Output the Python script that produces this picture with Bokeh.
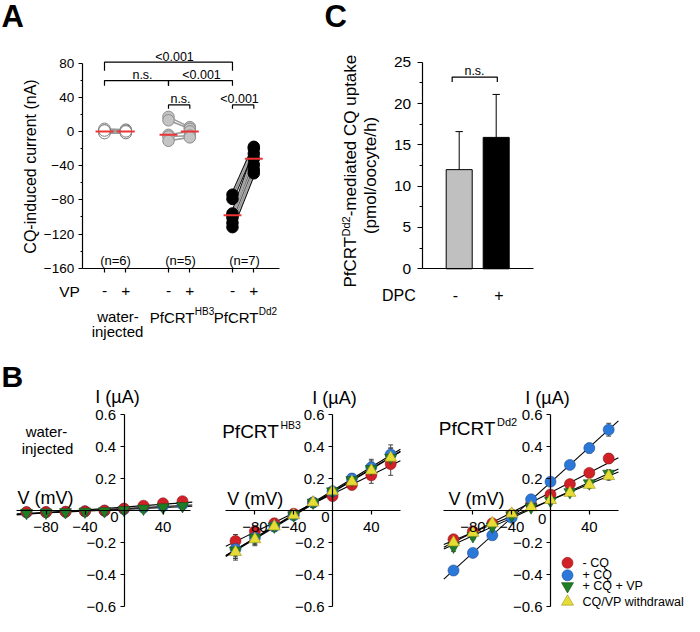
import numpy as np
from bokeh.plotting import figure
from bokeh.models import Range1d, LinearAxis, FixedTicker
from bokeh.layouts import column, row
from bokeh.embed import file_html
from bokeh.resources import INLINE
from bokeh.core.properties import value

FONT = "Liberation Sans"

# ---------------- Panel A data ----------------
A_x_minus = [0, 3, 6]
A_x_plus = [1, 4, 7]
water_minus = [3, 1, 0, -1, -2, 1]
water_plus = [2, 0, -1, 1, -2, 0]
hb3_minus = [17, 13, -4, -6, -11]
hb3_plus = [5, 3, 0, -5, -7]
dd2_minus = [-74, -79, -96, -98, -101, -107, -112]
dd2_plus = [-18, -20, -26, -32, -39, -45, -49]
A_median_minus = [0, -4, -98]
A_median_plus = [0, 0, -32]
A_n = ["(n=6)", "(n=5)", "(n=7)"]
A_yticks = [-160, -120, -80, -40, 0, 40, 80]
A_yminor = [-140, -100, -60, -20, 20, 60]
A_brackets = [(0, 6, 81, 71), (0, 3, 59.5, 53.5), (3, 6, 59.5, 53.5), (3, 4, 31, 26.5), (6, 7, 31, 26.5)]
A_bracket_labels = ["<0.001", "n.s.", "<0.001", "n.s.", "<0.001"]

# ---------------- Panel C data ----------------
C_x = [1, 2]
C_uptake = [12.0, 15.9]
C_err = [4.6, 5.2]
C_dpc = ["-", "+"]
C_yticks = [0, 5, 10, 15, 20, 25]
C_yminor = [2.5, 7.5, 12.5, 17.5, 22.5]

# ---------------- Panel B data ----------------
V = [-100, -80, -60, -40, -20, 0, 20, 40, 60]
B_xticks = [-80, -40, 40]
B_yticks = [-0.6, -0.4, -0.2, 0.2, 0.4, 0.6]

water_red = [-0.010, -0.010, -0.008, -0.005, 0.000, 0.012, 0.030, 0.045, 0.058]
water_blue = [-0.012, -0.010, -0.008, -0.005, -0.002, 0.008, 0.018, 0.028, 0.038]
water_green = [-0.015, -0.013, -0.010, -0.007, -0.004, 0.004, 0.012, 0.020, 0.028]

hb3_red = [-0.19, -0.13, -0.08, -0.02, 0.05, 0.09, 0.16, 0.22, 0.29]
hb3_blue = [-0.24, -0.17, -0.10, -0.03, 0.05, 0.12, 0.20, 0.27, 0.35]
hb3_green = [-0.25, -0.17, -0.10, -0.03, 0.05, 0.12, 0.19, 0.26, 0.33]
hb3_yellow = [-0.26, -0.18, -0.10, -0.03, 0.05, 0.12, 0.18, 0.25, 0.33]
hb3_red_err = [0.04, 0.035, 0.03, 0.02, 0.015, 0.02, 0.03, 0.05, 0.07]
hb3_blue_err = [0.05, 0.04, 0.03, 0.02, 0.02, 0.02, 0.03, 0.05, 0.06]
hb3_green_err = [0.05, 0.04, 0.03, 0.02, 0.02, 0.02, 0.03, 0.05, 0.06]
hb3_yellow_err = [0.05, 0.04, 0.03, 0.02, 0.02, 0.02, 0.03, 0.05, 0.06]

dd2_red = [-0.18, -0.13, -0.08, -0.025, 0.04, 0.10, 0.165, 0.235, 0.325]
dd2_blue = [-0.375, -0.265, -0.155, -0.045, 0.07, 0.18, 0.285, 0.39, 0.505]
dd2_green = [-0.225, -0.16, -0.10, -0.03, 0.02, 0.06, 0.115, 0.17, 0.23]
dd2_yellow = [-0.20, -0.14, -0.08, -0.02, 0.02, 0.065, 0.11, 0.16, 0.215]
dd2_red_err = [0.02, 0.015, 0.015, 0.01, 0.01, 0.015, 0.015, 0.02, 0.03]
dd2_blue_err = [0.02, 0.02, 0.015, 0.015, 0.015, 0.015, 0.02, 0.03, 0.04]
dd2_green_err = [0.03, 0.02, 0.015, 0.01, 0.01, 0.01, 0.015, 0.02, 0.025]
dd2_yellow_err = [0.03, 0.02, 0.015, 0.01, 0.01, 0.01, 0.015, 0.02, 0.025]

legend_labels = ["- CQ", "+ CQ", "+ CQ + VP", "CQ/VP withdrawal"]

STY = {
    "red": dict(marker="circle", fill="#d22027", line="#8c1418", size=11),
    "blue": dict(marker="circle", fill="#2b78d9", line="#1b4e95", size=11),
    "green": dict(marker="inverted_triangle", fill="#1f7d25", line="#114d14", size=12),
    "yellow": dict(marker="triangle", fill="#e6dc35", line="#9c9420", size=12),
}


def mk(px0, py0, w, h, ox, sx, oy, sy):
    p = figure(width=w, height=h,
               x_range=Range1d((px0 - ox) / sx, (px0 + w - ox) / sx),
               y_range=Range1d((oy - (py0 + h)) / sy, (oy - py0) / sy),
               output_backend="svg", toolbar_location=None,
               x_axis_location=None, y_axis_location=None,
               min_border=0, outline_line_color=None)
    p.grid.visible = False
    p.background_fill_color = "white"
    p.border_fill_color = "white"
    X = lambda px: (px - ox) / sx
    Y = lambda py: (oy - py) / sy
    return p, X, Y


def T(p, x, y, s, size, align="center", baseline="middle", angle=0.0, bold=False):
    p.text(x=[x], y=[y], text=[s], text_font=value(FONT), text_font_size=value(f"{size}px"),
           text_align=align, text_baseline=baseline, angle=angle,
           text_font_style="bold" if bold else "normal", text_color="black")


def axis(p, side, loc, bounds, ticks, minor=None, tick_out=4, minor_out=0, standoff=4,
         font=14, labels=True, width=1.2):
    ax = LinearAxis(fixed_location=loc, bounds=bounds,
                    ticker=FixedTicker(ticks=ticks, minor_ticks=minor or []),
                    major_tick_out=int(tick_out), major_tick_in=0,
                    minor_tick_out=int(minor_out), minor_tick_in=0,
                    major_label_standoff=int(standoff),
                    major_label_text_font=FONT, major_label_text_font_size=f"{font}px",
                    major_label_text_color="black" if labels else None,
                    axis_line_width=width, major_tick_line_width=width,
                    minor_tick_line_width=width,
                    axis_line_color="black", major_tick_line_color="black",
                    minor_tick_line_color="black")
    p.add_layout(ax, side)
    return ax


TOP_H = 340

# ================= Panel A =================
pA, AX, AY = mk(0, 0, 300, TOP_H, 104, 21.33, 130.9, 0.855)
axis(pA, "left", AX(81.7), (-160, 80), A_yticks, A_yminor, 4, 2, 4, 13.5)
axis(pA, "below", -160, (AX(81.7), AX(279)), A_x_minus + A_x_plus, None, 4, 0, 4, 10, labels=False)

groups = [(water_minus, water_plus, "white", "#7a7a7a"),
          (hb3_minus, hb3_plus, "#c4c4c4", "#8c8c8c"),
          (dd2_minus, dd2_plus, "black", "black")]
for (mi, pl, fc, lc), xm, xp in zip(groups, A_x_minus, A_x_plus):
    n = len(mi)
    if fc == "black":
        pA.segment([xm] * n, mi, [xp] * n, pl, line_color="black", line_width=3.4)
        pA.segment([xm] * n, mi, [xp] * n, pl, line_color="#a8a8a8", line_width=1.6)
    else:
        pA.segment([xm] * n, mi, [xp] * n, pl, line_color="#9a9a9a", line_width=1.6)
    pA.scatter([xm] * n, mi, size=11.5, fill_color=fc, line_color=lc, line_width=1)
    pA.scatter([xp] * n, pl, size=11.5, fill_color=fc, line_color=lc, line_width=1)

mx = A_x_minus + A_x_plus
pA.segment([x - 0.42 for x in mx], A_median_minus + A_median_plus,
           [x + 0.42 for x in mx], A_median_minus + A_median_plus,
           line_color="#ee3535", line_width=2)

bracket_text_px = [(174, 56), (142, 74.5), (201, 74), (180, 98.5), (239, 98)]
for (x0, x1, top, leg), lab, (tx, ty) in zip(A_brackets, A_bracket_labels, bracket_text_px):
    pA.line([x0, x0, x1, x1], [leg, top, top, leg], line_color="black", line_width=1.2)
    T(pA, AX(tx), AY(ty), lab, 12.5)

for lab, px in zip(A_n, [115, 180, 244]):
    T(pA, AX(px), AY(260), lab, 13)

T(pA, AX(69), AY(291), "VP", 15.5)
for xm, xp in zip(A_x_minus, A_x_plus):
    T(pA, xm, AY(290), "-", 15.5)
    T(pA, xp, AY(290), "+", 15.5)

T(pA, AX(117.5), AY(316), "water-", 15)
T(pA, AX(117), AY(331), "injected", 15)
T(pA, AX(149.3), AY(316.5), "PfCRT", 15, align="left")
T(pA, AX(194.3), AY(310.5), "HB3", 10, align="left")
T(pA, AX(213.3), AY(316.5), "PfCRT", 15, align="left")
T(pA, AX(258.3), AY(310.5), "Dd2", 10, align="left")
T(pA, AX(29.5), AY(166), "CQ-induced current (nA)", 16, angle=np.pi / 2)
T(pA, AX(1), AY(16), "A", 31, align="left", bold=True)

# ================= Panel C =================
pC, CX, CY = mk(300, 0, 384, TOP_H, 421.7, 37, 268.3, 8.264)
axis(pC, "left", 0, (0, 25), C_yticks, C_yminor, 5, 3, 6, 15.5)
axis(pC, "below", 0, (0, 3.0), [], None, 0, 0, 0, 10, labels=False)
pC.vbar(x=C_x, top=C_uptake, width=0.703, bottom=0,
        fill_color=["#c0c0c0", "black"], line_color="black", line_width=1)
tops = [u + e for u, e in zip(C_uptake, C_err)]
pC.segment(C_x, C_uptake, C_x, tops, line_color="black", line_width=1)
pC.segment([x - 0.1 for x in C_x], tops, [x + 0.1 for x in C_x], tops, line_color="black", line_width=1)
pC.line([0.81, 0.81, 2.03, 2.03], [22.6, 23.2, 23.2, 22.6], line_color="black", line_width=1.2)
T(pC, CX(474), CY(70), "n.s.", 12.5)
T(pC, CX(398.3), CY(295), "DPC", 16)
for lab, px in zip(C_dpc, [455, 498.3]):
    T(pC, CX(px), CY(294), lab, 16)
T(pC, CX(350), CY(287), "PfCRT", 17, align="left", angle=np.pi / 2)
T(pC, CX(345.5), CY(236), "Dd2", 11, align="left", angle=np.pi / 2)
T(pC, CX(350), CY(215.8), "-mediated CQ uptake", 17, align="left", angle=np.pi / 2)
T(pC, CX(370), CY(175), "(pmol/oocyte/h)", 17, angle=np.pi / 2)
T(pC, CX(324), CY(16), "C", 31, align="left", bold=True)


# ================= Panel B =================
def build_B(p, series, xb, errs=None):
    axis(p, "left", 0, (-0.6, 0.6), B_yticks, None, 4, 0, 4, 15)
    axis(p, "below", 0, xb, B_xticks, None, 4, 0, 7, 15)
    x0, x1 = -110, 70
    for name, ys in series:
        m, b = np.polyfit(V, ys, 1)
        p.line([x0, x1], [m * x0 + b, m * x1 + b], line_color="black", line_width=1.1)
    if errs:
        for (name, ys), es in zip(series, errs):
            lo = [y - e for y, e in zip(ys, es)]
            hi = [y + e for y, e in zip(ys, es)]
            p.segment(V, lo, V, hi, line_color="#444444", line_width=1)
            p.segment([v - 2.5 for v in V], lo, [v + 2.5 for v in V], lo, line_color="#444444", line_width=1)
            p.segment([v - 2.5 for v in V], hi, [v + 2.5 for v in V], hi, line_color="#444444", line_width=1)
    for name, ys in series:
        s = STY[name]
        p.scatter(V, ys, marker=s["marker"], size=s["size"], fill_color=s["fill"],
                  line_color=s["line"], line_width=0.6)


BOY, BSY = 510, 160
BH = 616 - TOP_H
pB1, B1X, B1Y = mk(0, TOP_H, 200, BH, 123.5, 0.975, BOY, BSY)
build_B(pB1, [("blue", water_blue), ("red", water_red), ("green", water_green)], (-110, 68))
T(pB1, B1X(1), B1Y(376), "B", 30, align="left", bold=True)
T(pB1, B1X(117), B1Y(396), "I (\u00b5A)", 18)
T(pB1, B1X(46), B1Y(431), "water-", 15)
T(pB1, B1X(47), B1Y(448), "injected", 15)
T(pB1, B1X(45), B1Y(497.5), "V (mV)", 18)
T(pB1, B1X(114), B1Y(516), "0", 15)

pB2, B2X, B2Y = mk(200, TOP_H, 222, BH, 332, 0.97, BOY, BSY)
build_B(pB2, [("red", hb3_red), ("blue", hb3_blue), ("green", hb3_green), ("yellow", hb3_yellow)],
        (-110, 70), [hb3_red_err, hb3_blue_err, hb3_green_err, hb3_yellow_err])
T(pB2, B2X(334), B2Y(397), "I (\u00b5A)", 18)
T(pB2, B2X(221.7), B2Y(431), "PfCRT", 19, align="left")
T(pB2, B2X(280), B2Y(424), "HB3", 10.5, align="left")
T(pB2, B2X(254.7), B2Y(498.5), "V (mV)", 18)
T(pB2, B2X(325), B2Y(516), "0", 15)

pB3, B3X, B3Y = mk(422, TOP_H, 262, BH, 550, 0.97, BOY, BSY)
build_B(pB3, [("red", dd2_red), ("blue", dd2_blue), ("green", dd2_green), ("yellow", dd2_yellow)],
        (-110, 70), [dd2_red_err, dd2_blue_err, dd2_green_err, dd2_yellow_err])
T(pB3, B3X(547), B3Y(397), "I (\u00b5A)", 18)
T(pB3, B3X(438.3), B3Y(428), "PfCRT", 19, align="left")
T(pB3, B3X(496.5), B3Y(421), "Dd2", 11, align="left")
T(pB3, B3X(476), B3Y(498.5), "V (mV)", 18)
T(pB3, B3X(541.7), B3Y(518), "0", 15)

leg_y = [562.3, 574.8, 585.6, 601.2]
for name, lab, py in zip(["red", "blue", "green", "yellow"], legend_labels, leg_y):
    s = STY[name]
    pB3.scatter([B3X(567)], [B3Y(py)], marker=s["marker"], size=s["size"],
                fill_color=s["fill"], line_color=s["line"], line_width=0.6)
    T(pB3, B3X(582), B3Y(py), lab, 12.5, align="left")

layout = column(row(pA, pC), row(pB1, pB2, pB3))
open("out.html", "w").write(file_html(layout, INLINE))
